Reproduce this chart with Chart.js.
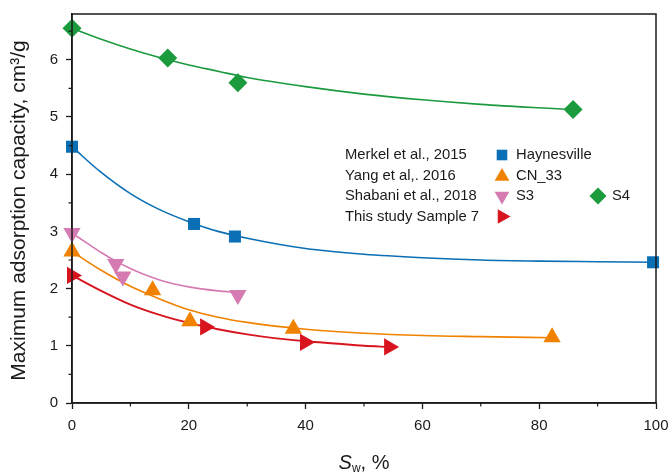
<!DOCTYPE html>
<html>
<head>
<meta charset="utf-8">
<script src="https://cdn.jsdelivr.net/npm/chart.js@4.4.1/dist/chart.umd.min.js"></script>
<style>
html,body{margin:0;padding:0;background:#fff;}
#wrap{width:670px;height:473px;position:relative;}
</style>
</head>
<body>
<div id="wrap"><canvas id="c" width="670" height="473"></canvas></div>
<script>
// ---- data ----
const xTicks = [0, 20, 40, 60, 80, 100];
const yTicks = [0, 1, 2, 3, 4, 5, 6];

// Measured points
const haynesX = [0, 20.9, 27.9, 99.5];
const haynesY = [4.48, 3.13, 2.91, 2.46];
const cn33X = [0, 13.8, 20.2, 37.9, 82.2];
const cn33Y = [2.65, 1.97, 1.43, 1.30, 1.15];
const s3X = [0, 7.5, 8.7, 28.4];
const s3Y = [2.97, 2.43, 2.21, 1.89];
const s4X = [0, 16.4, 28.4, 85.8];
const s4Y = [6.55, 6.03, 5.60, 5.13];
const s7X = [0, 22.8, 39.9, 54.3];
const s7Y = [2.23, 1.33, 1.06, 0.98];

// Fitted curves
const haynesFitX = [0, 5, 10, 15, 20, 25, 30, 40, 50, 60, 70, 80, 90, 100];
const haynesFitY = [4.48, 4.03, 3.66, 3.38, 3.17, 3.00, 2.88, 2.70, 2.60, 2.54, 2.50, 2.48, 2.47, 2.46];
const cn33FitX = [0, 5, 10, 15, 20, 25, 30, 40, 50, 60, 70, 82.2];
const cn33FitY = [2.65, 2.32, 2.04, 1.82, 1.63, 1.50, 1.41, 1.29, 1.22, 1.18, 1.16, 1.14];
const s3FitX = [0, 2.5, 5, 7.5, 10, 12.5, 15, 17.5, 20, 22.5, 25, 28.4];
const s3FitY = [2.97, 2.80, 2.63, 2.48, 2.35, 2.24, 2.15, 2.08, 2.03, 1.99, 1.96, 1.93];
const s4FitX = [0, 5, 10, 15, 20, 25, 30, 40, 50, 60, 70, 80, 85.8];
const s4FitY = [6.55, 6.36, 6.19, 6.04, 5.91, 5.80, 5.69, 5.53, 5.40, 5.30, 5.22, 5.16, 5.13];
const s7FitX = [0, 5, 10, 15, 20, 25, 30, 35, 40, 45, 50, 54.3];
const s7FitY = [2.23, 1.96, 1.72, 1.54, 1.40, 1.29, 1.20, 1.13, 1.08, 1.04, 1.00, 0.98];

const colors = {
  blue: '#0a6fb5',
  orange: '#f08200',
  pink: '#d67ab2',
  green: '#1b9a3e',
  red: '#d8141e'
};

const legendRows = [
  {text: 'Merkel et al., 2015', items: [{style: 'rect', rot: 0, color: colors.blue, label: 'Haynesville'}]},
  {text: 'Yang et al,. 2016', items: [{style: 'triangle', rot: 0, color: colors.orange, label: 'CN_33'}]},
  {text: 'Shabani et al., 2018', items: [{style: 'triangle', rot: 180, color: colors.pink, label: 'S3'}, {style: 'rectRot', rot: 0, color: colors.green, label: 'S4'}]},
  {text: 'This study Sample 7', items: [{style: 'triangle', rot: 90, color: colors.red, label: ''}]}
];

const zip = (xs, ys) => xs.map((x, i) => ({x: x, y: ys[i]}));

function lineDs(xs, ys, color, w) {
  return {data: zip(xs, ys), showLine: true, borderColor: color, borderWidth: w || 1.6,
    pointRadius: 0, fill: false, tension: 0.4, cubicInterpolationMode: 'monotone', order: 2, clip: false};
}
function ptDs(xs, ys, color, style, rot, r) {
  return {data: zip(xs, ys), showLine: false, backgroundColor: color, borderColor: color, borderWidth: 0,
    pointStyle: style, rotation: rot, pointRadius: r, order: 1, clip: false};
}

const FONT = '"Liberation Sans", Arial, sans-serif';

const framePlugin = {
  id: 'frame',
  afterDraw(chart) {
    const ctx = chart.ctx;
    const a = chart.chartArea;
    const xs = chart.scales.x, ys = chart.scales.y;
    ctx.save();
    ctx.strokeStyle = '#1a1a1a';
    ctx.lineWidth = 1.5;
    ctx.strokeRect(a.left, a.top, a.right - a.left, a.bottom - a.top);
    // minor ticks
    ctx.lineWidth = 1.2;
    ctx.beginPath();
    for (let v = 0.5; v < 6.8; v += 1) {
      const py = ys.getPixelForValue(v);
      ctx.moveTo(a.left, py); ctx.lineTo(a.left - 3.5, py);
    }
    for (let v = 10; v < 100; v += 20) {
      const px = xs.getPixelForValue(v);
      ctx.moveTo(px, a.bottom); ctx.lineTo(px, a.bottom + 3.5);
    }
    ctx.stroke();

    // axis titles
    ctx.fillStyle = '#1a1a1a';
    ctx.save();
    ctx.translate(19, (a.top + a.bottom) / 2 + 2);
    ctx.rotate(-Math.PI / 2);
    ctx.font = '21px ' + FONT;
    ctx.textAlign = 'center';
    ctx.textBaseline = 'middle';
    ctx.fillText('Maximum adsorption capacity, cm\u00B3/g', 0, 0);
    ctx.restore();

    // x title: S_w, %
    ctx.textBaseline = 'alphabetic';
    ctx.textAlign = 'left';
    const base = 469;
    ctx.font = 'italic 20px ' + FONT;
    const wS = ctx.measureText('S').width;
    ctx.font = '12px ' + FONT;
    const wW = ctx.measureText('w').width;
    ctx.font = '20px ' + FONT;
    const wR = ctx.measureText(', %').width;
    let x0 = 364 - (wS + wW + wR) / 2;
    ctx.font = 'italic 20px ' + FONT;
    ctx.fillText('S', x0, base); x0 += wS;
    ctx.font = '12px ' + FONT;
    ctx.fillText('w', x0, base + 3); x0 += wW;
    ctx.font = '20px ' + FONT;
    ctx.fillText(', %', x0, base);

    // legend
    const rowY = [155, 175.5, 196, 216.5];
    ctx.font = '14.8px ' + FONT;
    ctx.textBaseline = 'middle';
    const colMark = [502, 598];
    const colText = [516, 612];
    legendRows.forEach((row, i) => {
      ctx.fillStyle = '#1a1a1a';
      ctx.fillText(row.text, 345, rowY[i]);
      row.items.forEach((it, j) => {
        ctx.fillStyle = it.color;
        ctx.strokeStyle = it.color;
        ctx.lineWidth = 0;
        Chart.helpers.drawPoint(ctx, {pointStyle: it.style, rotation: it.rot, radius: it.style === 'rect' ? 7.5 : 8.5, borderWidth: 0}, colMark[j], rowY[i] + (it.style === 'triangle' && it.rot === 0 ? 1 : 0));
        if (it.label) {
          ctx.fillStyle = '#1a1a1a';
          ctx.fillText(it.label, colText[j], rowY[i]);
        }
      });
    });
    ctx.restore();
  }
};

new Chart(document.getElementById('c'), {
  type: 'scatter',
  data: {
    datasets: [
      lineDs(s4FitX, s4FitY, colors.green),
      lineDs(haynesFitX, haynesFitY, colors.blue),
      lineDs(s3FitX, s3FitY, colors.pink),
      lineDs(cn33FitX, cn33FitY, colors.orange),
      lineDs(s7FitX, s7FitY, colors.red, 1.9),
      ptDs(s4X, s4Y, colors.green, 'rectRot', 0, 9.5),
      ptDs(haynesX, haynesY, colors.blue, 'rect', 0, 8.5),
      ptDs(s3X, s3Y, colors.pink, 'triangle', 180, 10),
      ptDs(cn33X, cn33Y, colors.orange, 'triangle', 0, 10),
      ptDs(s7X, s7Y, colors.red, 'triangle', 90, 10)
    ]
  },
  options: {
    responsive: false,
    animation: false,
    devicePixelRatio: 1,
    layout: {autoPadding: false, padding: {left: 0, right: 14, top: 14, bottom: 0}},
    plugins: {legend: {display: false}, tooltip: {enabled: false}},
    scales: {
      x: {
        type: 'linear', min: 0, max: 100,
        afterBuildTicks: s => { s.ticks = xTicks.map(v => ({value: v})); },
        afterFit: s => { s.height = 70; s.paddingLeft = 0; s.paddingRight = 0; },
        grid: {display: true, drawOnChartArea: false, drawTicks: true, tickLength: 6, tickWidth: 1.3, tickColor: '#1a1a1a'},
        border: {display: true, color: '#1a1a1a', width: 1.5},
        ticks: {color: '#1a1a1a', font: {family: FONT, size: 15}, padding: 8, maxRotation: 0}
      },
      y: {
        type: 'linear', min: 0, max: 6.8,
        afterBuildTicks: s => { s.ticks = yTicks.map(v => ({value: v})); },
        afterFit: s => { s.width = 72; s.paddingTop = 0; s.paddingBottom = 0; },
        grid: {display: true, drawOnChartArea: false, drawTicks: true, tickLength: 6, tickWidth: 1.3, tickColor: '#1a1a1a'},
        border: {display: true, color: '#1a1a1a', width: 1.5},
        ticks: {color: '#1a1a1a', font: {family: FONT, size: 15}, padding: 8}
      }
    }
  },
  plugins: [framePlugin]
});
</script>
</body>
</html>
